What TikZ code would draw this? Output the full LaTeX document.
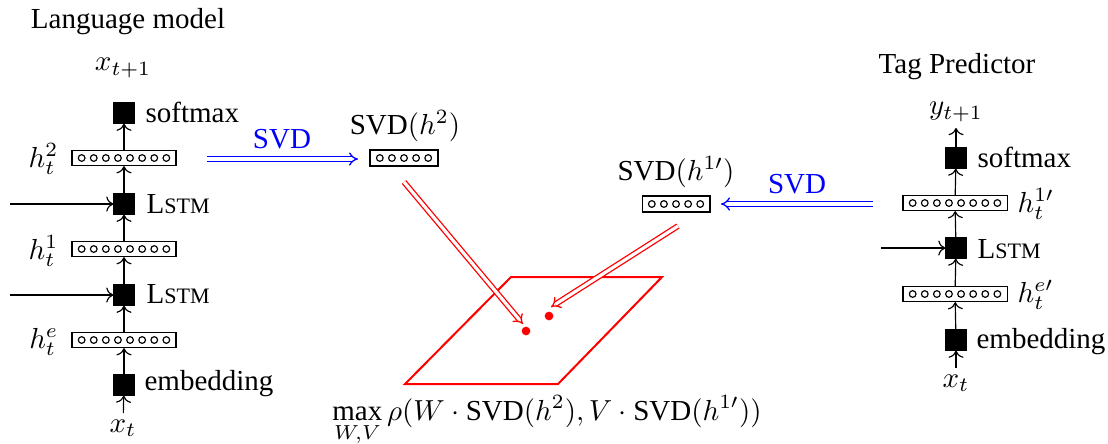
\documentclass[tikz,border=0pt]{standalone}
\usepackage{fontspec}
\setmainfont{Liberation Serif}
\usepackage{amsmath}
\usetikzlibrary{arrows.meta}
\newcommand\dotrow[2]{\foreach \k in {1,...,#2}{\draw[line width=0.4pt] (#1.center) ++({(\k-(#2+1)/2)*12.1},0) circle[radius=1.15pt];}}
\newcommand\lstmtxt{L{\fontsize{7.6}{9}\selectfont STM}}
\begin{document}
\begin{tikzpicture}[x=0.3448pt,y=-0.3448pt,
  sq/.style={fill=black,draw=black,minimum size=6.9pt,inner sep=0pt},
  hbox/.style={draw,line width=0.4pt,minimum width=35.9pt,minimum height=5.2pt,inner sep=0pt},
  sbox/.style={draw,line width=0.4pt,minimum width=23.4pt,minimum height=5.5pt,inner sep=0pt},
  lbl/.style={inner sep=0pt,font=\fontsize{10}{12}\selectfont},
  io/.style={inner sep=2pt,font=\fontsize{10}{12}\selectfont},
  arr/.style={->,line width=0.4pt},
  bluarr/.style={blue,double,double distance=1.1pt,line width=0.45pt,-{Implies[scale=1.3]}},
  redarr/.style={red,double,double distance=1.1pt,line width=0.45pt,-{Implies[scale=1.3]}},
  plane/.style={red,line width=0.7pt}
]
\useasboundingbox (0,0) rectangle (1108,443);

% ---------- Language model ----------
\node[lbl] (lmtitle) at (128,22) {Language model};
\node[io] (xtp1) at (123,68) {$x_{t+1}$};
\node[sq] (smL) at (124,113) {};
\node[hbox] (h2) at (124,158) {};
\node[sq] (lstmL1) at (124,204) {};
\node[hbox] (h1) at (124,249) {};
\node[sq] (lstmL2) at (124,295) {};
\node[hbox] (he) at (124,340) {};
\node[sq] (embL) at (124,385) {};
\node[io] (xtL) at (123,428) {$x_t$};
\dotrow{h2}{8}\dotrow{h1}{8}\dotrow{he}{8}

\node[lbl,anchor=base west] (smLt) at (145,122) {softmax};
\node[lbl,anchor=base west] (lsL1t) at (146,213) {\lstmtxt};
\node[lbl,anchor=base west] (lsL2t) at (146,303) {\lstmtxt};
\node[lbl,anchor=base west] (embLt) at (144,390) {embedding};
\node[lbl,anchor=east] (h2t) at (59,159) {$h_t^2$};
\node[lbl,anchor=east] (h1t) at (59,251) {$h_t^1$};
\node[lbl,anchor=east] (het) at (59,342) {$h_t^e$};

\coordinate (inL1) at (10,204);
\coordinate (inL2) at (10,295);
\draw[arr] (xtL) -- (embL);
\draw[arr] (embL) -- (he);
\draw[arr] (he) -- (lstmL2);
\draw[arr] (lstmL2) -- (h1);
\draw[arr] (h1) -- (lstmL1);
\draw[arr] (lstmL1) -- (h2);
\draw[arr] (h2) -- (smL);
\draw[arr] (inL1) -- (lstmL1);
\draw[arr] (inL2) -- (lstmL2);

% ---------- Tag predictor ----------
\node[lbl] (tptitle) at (957,67) {Tag Predictor};
\node[io] (ytp1) at (956,112) {$y_{t+1}$};
\node[sq] (smR) at (956,158) {};
\node[hbox] (h1p) at (955,203) {};
\node[sq] (lstmR) at (956,248) {};
\node[hbox] (hep) at (955,294) {};
\node[sq] (embR) at (956,340) {};
\node[io] (xtR) at (956,383) {$x_t$};
\dotrow{h1p}{8}\dotrow{hep}{8}

\node[lbl,anchor=base west] (smRt) at (977,167) {softmax};
\node[lbl,anchor=base west] (lsRt) at (977,258) {\lstmtxt};
\node[lbl,anchor=base west] (embRt) at (976,348) {embedding};
\node[lbl,anchor=west] (h1pt) at (1017,204) {$h_t^{1\prime}$};
\node[lbl,anchor=west] (hept) at (1017,295) {$h_t^{e\prime}$};

\coordinate (inR) at (881,248);
\draw[arr] (xtR) -- (embR);
\draw[arr] (embR) -- (hep);
\draw[arr] (hep) -- (lstmR);
\draw[arr] (lstmR) -- (h1p);
\draw[arr] (h1p) -- (smR);
\draw[arr] (smR) -- (ytp1);
\draw[arr] (inR) -- (lstmR);

% ---------- SVD ----------
\node[sbox] (svd2) at (404,158) {};
\dotrow{svd2}{5}
\node[lbl] (svd2t) at (405,126) {SVD$(h^2)$};
\node[sbox] (svd1) at (676,204) {};
\dotrow{svd1}{5}
\node[lbl] (svd1t) at (676,172) {SVD$(h^{1\prime})$};

\coordinate (bLs) at (207,159);
\coordinate (bLe) at (358,159);
\coordinate (bRs) at (873,204);
\coordinate (bRe) at (721,204);
\draw[bluarr] (bLs) -- (bLe);
\draw[bluarr] (bRs) -- (bRe);
\node[lbl,blue] (svdL) at (282,139) {SVD};
\node[lbl,blue] (svdR) at (797,184) {SVD};

% ---------- plane ----------
\coordinate (p1) at (405,384);
\coordinate (p2) at (558,384);
\coordinate (p3) at (662,277);
\coordinate (p4) at (511,277);
\draw[plane] (p1) -- (p2) -- (p3) -- (p4) -- cycle;
\coordinate (d1) at (526,331);
\coordinate (d2) at (549,316);
\fill[red] (d1) circle[radius=1.5pt];
\fill[red] (d2) circle[radius=1.5pt];

\coordinate (r1s) at (404,182);
\coordinate (r1e) at (523,324);
\coordinate (r2s) at (678,226);
\coordinate (r2e) at (551,307);
\draw[redarr] (r1s) -- (r1e);
\draw[redarr] (r2s) -- (r2e);

\node[lbl,anchor=north] (formula) at (547,395) {$\displaystyle\max_{W,V}\rho(W\cdot\text{SVD}(h^2),V\cdot\text{SVD}(h^{1\prime}))$};
\end{tikzpicture}
\end{document}
